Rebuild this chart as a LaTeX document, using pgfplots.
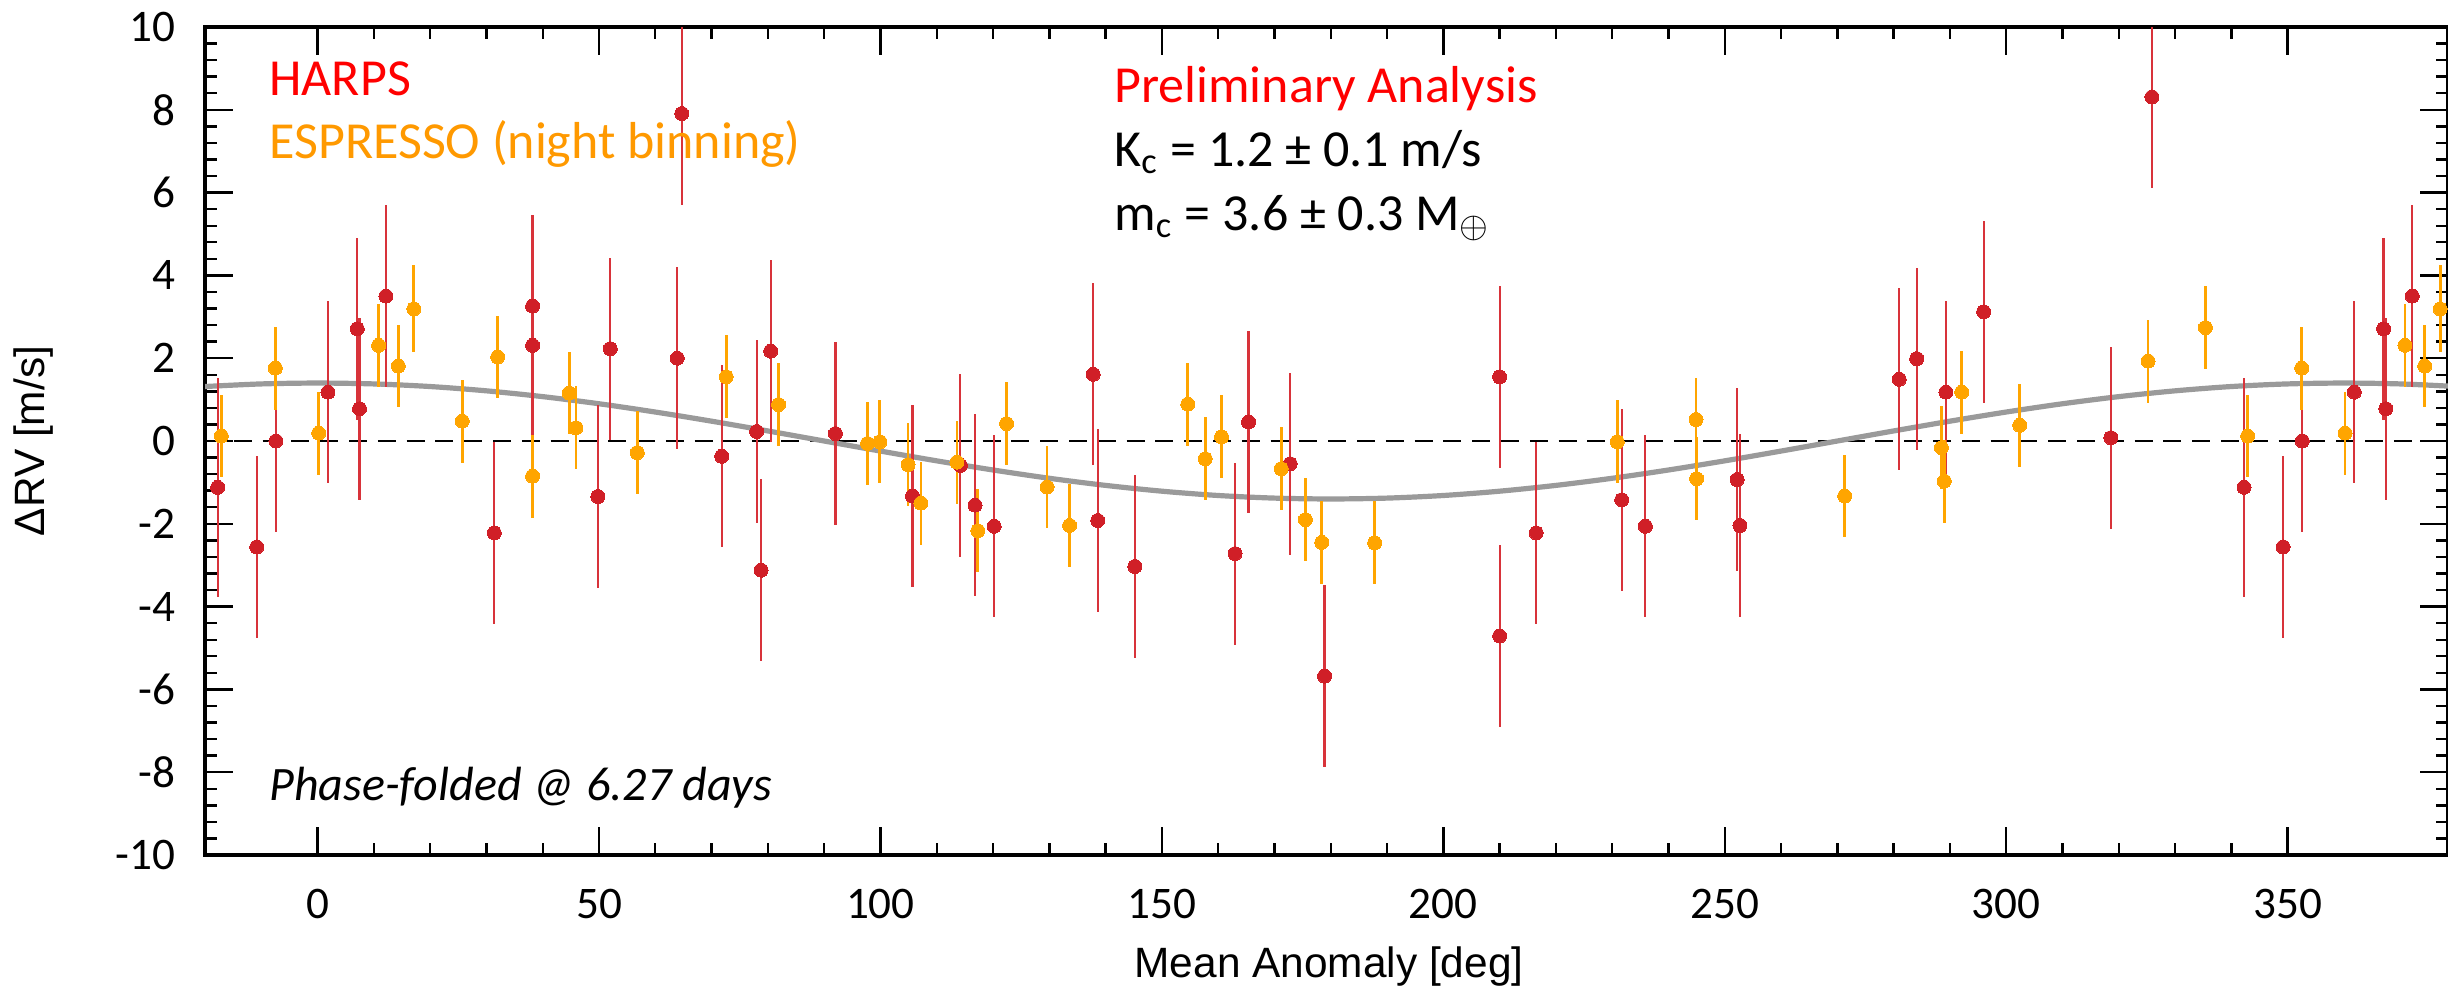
\documentclass[border=0pt]{standalone}
\usepackage{fontspec}
\setmainfont{Carlito}
\newfontfamily\labfont{Liberation Sans}
\usepackage{pgfplots}
\pgfplotsset{compat=1.18}
\usepackage{pgfplotstable}

\definecolor{harpsdot}{HTML}{D01F27}
\definecolor{harpsbar}{HTML}{D8333A}
\definecolor{espdot}{HTML}{FFA500}
\definecolor{esptxt}{HTML}{FF9900}
\definecolor{fitgray}{HTML}{9A9A9A}

\pgfplotstableread{
x y e
-17.75 -1.12 2.65
-10.8 -2.56 2.2
-7.4 0.00 2.2
1.85 1.18 2.2
7.05 2.71 2.2
7.45 0.78 2.2
12.15 3.50 2.2
31.4 -2.22 2.2
38.2 3.26 2.2
38.2 2.31 2.2
49.8 -1.34 2.2
52.0 2.23 2.2
63.9 2.00 2.2
64.7 7.91 2.2
71.8 -0.37 2.2
78.0 0.23 2.2
78.8 -3.12 2.2
80.5 2.17 2.2
92.0 0.18 2.2
105.7 -1.33 2.2
114.2 -0.59 2.2
116.8 -1.55 2.2
120.2 -2.06 2.2
137.8 1.61 2.2
138.6 -1.92 2.2
145.2 -3.03 2.2
163.0 -2.72 2.2
165.4 0.46 2.2
172.8 -0.55 2.2
178.9 -5.68 2.2
210.0 1.55 2.2
210.0 -4.71 2.2
216.5 -2.22 2.2
231.7 -1.42 2.2
235.9 -2.06 2.2
252.2 -0.93 2.2
252.7 -2.04 2.2
281.0 1.49 2.2
284.1 1.99 2.2
289.3 1.18 2.2
296.0 3.12 2.2
318.6 0.08 2.2
325.9 8.31 2.2
342.25 -1.12 2.65
349.2 -2.56 2.2
352.6 0.00 2.2
361.85 1.18 2.2
367.05 2.71 2.2
367.45 0.78 2.2
372.15 3.50 2.2
}\harps

\pgfplotstableread{
x y e
-17.1 0.12 1.0
-7.5 1.76 1.0
0.2 0.19 1.0
10.85 2.31 1.0
14.35 1.81 1.0
17.1 3.19 1.05
25.7 0.48 1.0
32.0 2.03 1.0
38.2 -0.85 1.0
44.7 1.16 1.0
45.9 0.32 1.0
56.8 -0.28 1.0
72.6 1.55 1.0
81.9 0.88 1.0
97.7 -0.06 1.0
99.9 -0.02 1.0
104.9 -0.57 1.0
107.2 -1.50 1.0
113.6 -0.51 1.0
117.3 -2.17 1.0
122.4 0.42 1.0
129.6 -1.11 1.0
133.6 -2.04 1.0
154.6 0.89 1.0
157.7 -0.43 1.0
160.6 0.10 1.0
171.2 -0.67 1.0
175.5 -1.90 1.0
178.4 -2.45 1.0
187.8 -2.46 1.0
230.9 -0.02 1.0
244.9 0.52 1.0
245.0 -0.91 1.0
271.3 -1.33 1.0
288.5 -0.16 1.0
289.0 -0.97 1.0
292.1 1.18 1.0
302.4 0.38 1.0
325.2 1.93 1.0
335.4 2.74 1.0
342.9 0.12 1.0
352.5 1.76 1.0
360.2 0.19 1.0
370.85 2.31 1.0
374.35 1.81 1.0
377.1 3.19 1.05
}\espresso

\pgfplotstableread{
x y
-20 1.316
-10 1.379
0 1.400
10 1.379
20 1.316
30 1.212
40 1.072
50 0.900
60 0.700
70 0.479
80 0.243
90 0.000
100 -0.243
110 -0.479
120 -0.700
130 -0.900
140 -1.072
150 -1.212
160 -1.316
170 -1.379
180 -1.400
190 -1.379
200 -1.316
210 -1.212
220 -1.072
230 -0.900
240 -0.700
250 -0.479
260 -0.243
270 0.000
280 0.243
290 0.479
300 0.700
310 0.900
320 1.072
330 1.212
340 1.316
350 1.379
360 1.400
370 1.379
380 1.316
}\fitcurve

\begin{document}
\begin{tikzpicture}
\begin{axis}[
  scale only axis,
  width=560.75pt, height=207pt,
  xmin=-20, xmax=378.5, ymin=-10, ymax=10,
  xtick={0,50,100,150,200,250,300,350},
  xticklabels={0,50,100,150,200,250,300,350},
  ytick={-10,-8,-6,-4,-2,0,2,4,6,8,10},
  yticklabels={-10,-8,-6,-4,-2,0,2,4,6,8,10},
  minor x tick num=4, minor y tick num=4,
  tick align=inside,
  major tick length=7pt, minor tick length=3pt,
  every tick/.style={black, line width=0.6pt},
  axis line style={line width=0.8pt},
  ticklabel style={font=\fontsize{11.3}{13}\selectfont},
  xticklabel style={yshift=-5pt},
  yticklabel style={xshift=-3.9pt},
]
\addplot[black, line width=0.6pt, dash pattern=on 4.5pt off 2.7pt] coordinates {(-20,0) (380,0)};
\addplot[fitgray, line width=1.3pt, smooth] table[x=x, y=y] {\fitcurve};
\addplot[only marks, mark=*, mark size=1.75pt, color=harpsdot,
  mark options={fill=harpsdot, draw=harpsdot, line width=0pt},
  error bars/.cd, y dir=both, y explicit, error mark=none,
  error bar style={line width=0.55pt, harpsbar}]
  table[x=x, y=y, y error=e] {\harps};
\addplot[only marks, mark=*, mark size=1.75pt, color=espdot,
  mark options={fill=espdot, draw=espdot, line width=0pt},
  error bars/.cd, y dir=both, y explicit, error mark=none,
  error bar style={line width=0.7pt, espdot}]
  table[x=x, y=y, y error=e] {\espresso};

\node[anchor=base west, inner sep=0, text=red, font=\fontsize{13}{15}\selectfont] at (axis cs:-8.7,8.35) {HARPS};
\node[anchor=base west, inner sep=0, text=esptxt, font=\fontsize{13}{15}\selectfont] at (axis cs:-8.7,6.82) {ESPRESSO (night binning)};
\node[anchor=base west, inner sep=0, text=red, font=\fontsize{13}{15}\selectfont] at (axis cs:141.4,8.18) {Preliminary Analysis};
\node[anchor=base west, inner sep=0, text=black, font=\fontsize{13}{15}\selectfont] at (axis cs:141.4,6.63) {K\textsubscript{c} = 1.2 ± 0.1 m/s};
\node[anchor=base west, inner sep=0, text=black, font=\fontsize{13}{15}\selectfont] at (axis cs:141.4,5.09) {m\textsubscript{c} = 3.6 ± 0.3 M\textsubscript{$\oplus$}};
\node[anchor=base west, inner sep=0, text=black, font=\itshape\fontsize{12}{14}\selectfont] at (axis cs:-8.7,-8.69) {Phase-folded @ 6.27 days};
\end{axis}
\node[rotate=90, inner sep=0, font=\labfont\fontsize{10.6}{12}\selectfont] at (-42.75pt,103.5pt) {ΔRV [m/s]};
\node[anchor=base, inner sep=0, font=\labfont\fontsize{10.6}{12}\selectfont] at (281pt,-30.5pt) {Mean Anomaly [deg]};
\pgfresetboundingbox
\path[use as bounding box] (-51.25pt,-33.25pt) rectangle (560.75pt,213.75pt);
\end{tikzpicture}
\end{document}
